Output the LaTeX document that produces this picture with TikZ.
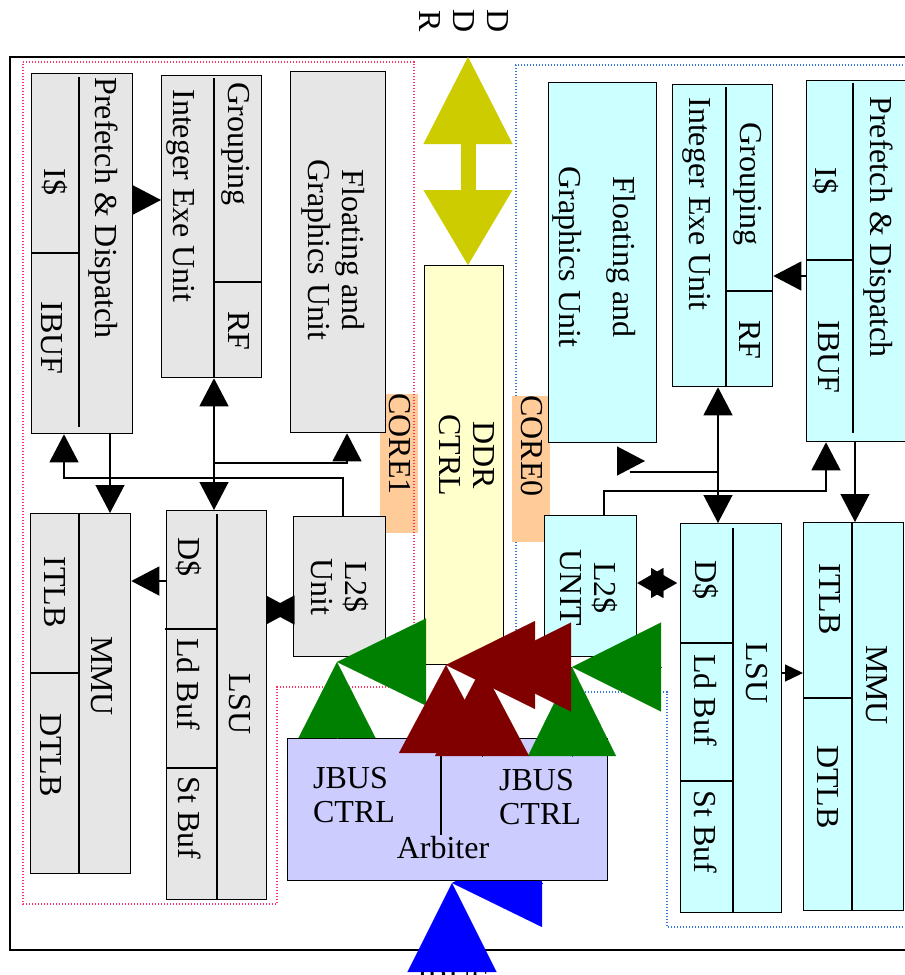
\documentclass[tikz,border=0pt]{standalone}
\usepackage{fontspec}
\setmainfont{Liberation Serif}
\usetikzlibrary{arrows.meta}
\definecolor{CoreGrey}{HTML}{E6E6E6}
\definecolor{CoreCyan}{HTML}{CCFFFF}
\definecolor{DdrYellow}{HTML}{FFFFCC}
\definecolor{DdrOlive}{HTML}{CCCC00}
\definecolor{JbusLilac}{HTML}{CCCCFF}
\definecolor{TagPeach}{HTML}{FFCC99}
\definecolor{BusGreen}{HTML}{008000}
\definecolor{BusMaroon}{HTML}{800000}
\definecolor{BusBlue}{HTML}{0000FF}
\definecolor{RegionRed}{HTML}{FF3366}
\definecolor{RegionBlue}{HTML}{3377DD}

\begin{document}
\begin{tikzpicture}[
    x=1pt, y=-1pt,
    unit/.style={draw=black, line width=1.3pt, inner sep=0pt, anchor=north west},
    greyunit/.style={unit, fill=CoreGrey},
    cyanunit/.style={unit, fill=CoreCyan},
    tag/.style={fill=TagPeach, inner sep=0pt, anchor=north west},
    lbl/.style={rotate=-90, inner sep=0pt, font=\fontsize{32}{34}\selectfont},
    hlbl/.style={inner sep=0pt, align=left, font=\fontsize{32}{34}\selectfont},
    part/.style={line width=1.3pt},
    region/.style={line width=1.3pt, dash pattern=on 1.4pt off 1.6pt},
    arr/.style={line width=1.3pt, -{Triangle[length=28pt,width=29pt]}},
    dbl/.style={line width=1.3pt, {Triangle[length=28pt,width=29pt]}-{Triangle[length=28pt,width=29pt]}},
    head/.style={line width=0.1pt, -{Triangle[length=#1pt,width=29pt]}},
    bus/.style args={#1/#2/#3}{color=#1, line width=0.1pt, -{Triangle[length=#2pt,width=#3pt]}}
]
\useasboundingbox (0,0) rectangle (905,975);

% chip outline and core regions
\draw[line width=1.5pt] (10,57) rectangle (930,950);
\draw[region, RegionBlue] (930,65) -- (516,65) -- (516,692) -- (667,692) -- (667,927) -- (930,927);
\node[tag, minimum width=38pt, minimum height=139pt] (tag1) at (380,394) {};
\node[tag, minimum width=38pt, minimum height=146pt] (tag0) at (512,396) {};
\draw[region, RegionRed] (23,62) -- (414,62) -- (414,687) -- (277,687) -- (277,904) -- (23,904) -- cycle;

% JBUS side arrow (half hidden under the box)
\coordinate (jb) at (452,883);
\draw[bus=BusBlue/90/88] (542,883) -- (jb);

% CORE1
\node[greyunit, minimum width=101pt, minimum height=360pt] (pd1) at (31,73) {};
\node[greyunit, minimum width=100pt, minimum height=302pt] (ie1) at (161,75) {};
\node[greyunit, minimum width=95pt, minimum height=361pt] (fg1) at (290,71) {};
\node[greyunit, minimum width=100pt, minimum height=360pt] (mmu1) at (30,513) {};
\node[greyunit, minimum width=100pt, minimum height=389pt] (lsu1) at (166,510) {};
\node[greyunit, minimum width=92pt, minimum height=140pt] (l21) at (293,516) {};

% DDR controller and JBUS
\node[unit, fill=DdrYellow, minimum width=79pt, minimum height=399pt] (ddr) at (424,265) {};
\node[unit, fill=JbusLilac, minimum width=320pt, minimum height=142pt] (jbus) at (287,738) {};

% CORE0
\node[cyanunit, minimum width=108pt, minimum height=360pt] (fg0) at (548,82) {};
\node[cyanunit, minimum width=100pt, minimum height=302pt] (ie0) at (672,84) {};
\node[cyanunit, minimum width=120pt, minimum height=361pt] (pd0) at (806,80) {};
\node[cyanunit, minimum width=92pt, minimum height=141pt] (l20) at (544,515) {};
\node[cyanunit, minimum width=101pt, minimum height=389pt] (lsu0) at (680,523) {};
\node[cyanunit, minimum width=100pt, minimum height=388pt] (mmu0) at (803,522) {};

% inner partitions
\draw[part] (79,77) -- (79,427);
\draw[part] (31,253) -- (79,253);
\draw[part] (214,78) -- (214,377);
\draw[part] (214,282) -- (261,282);
\draw[part] (79,513) -- (79,873);
\draw[part] (30,673) -- (79,673);
\draw[part] (217,514) -- (217,899);
\draw[part] (165,629) -- (217,629);
\draw[part] (166,768) -- (217,768);
\draw[part] (726,87) -- (726,386);
\draw[part] (726,291) -- (772,291);
\draw[part] (853,83) -- (853,433);
\draw[part] (806,260) -- (853,260);
\draw[part] (733,528) -- (733,912);
\draw[part] (680,643) -- (733,643);
\draw[part] (680,781) -- (733,781);
\draw[part] (852,522) -- (852,910);
\draw[part] (803,698) -- (852,698);
\draw[part] (441,743) -- (441,835);

% labels CORE1
\node[lbl] at (55,182) {I\$};
\node[lbl] at (103,208) {Prefetch \& Dispatch};
\node[lbl] at (52,338) {IBUF};
\node[lbl] at (236,144) {Grouping};
\node[lbl] at (181,196) {Integer Exe Unit};
\node[lbl] at (239,331) {RF};
\node[lbl, align=center] at (333,250) {Floating and\\Graphics Unit};
\node[lbl, align=center] at (340,587) {L2\$\\Unit};
\node[lbl] at (55,592) {ITLB};
\node[lbl] at (51,755) {DTLB};
\node[lbl] at (102,676) {MMU};
\node[lbl] at (189,557) {D\$};
\node[lbl] at (189,684) {Ld Buf};
\node[lbl] at (190,818) {St Buf};
\node[lbl] at (240,704) {LSU};
\node[lbl] at (400,444) {CORE1};
\node[lbl, align=center] at (467,455) {DDR\\CTRL};
\node[lbl] at (532,446) {CORE0};

% labels CORE0
\node[lbl] at (826,181) {I\$};
\node[lbl] at (878,227) {Prefetch \& Dispatch};
\node[lbl] at (829,357) {IBUF};
\node[lbl] at (748,184) {Grouping};
\node[lbl] at (697,204) {Integer Exe Unit};
\node[lbl] at (750,340) {RF};
\node[lbl, align=center] at (594,257) {Floating and\\[20pt]Graphics Unit};
\node[lbl, align=center] at (589,588) {L2\$\\UNIT};
\node[lbl] at (706,580) {D\$};
\node[lbl] at (706,700) {Ld Buf};
\node[lbl] at (706,832) {St Buf};
\node[lbl] at (757,673) {LSU};
\node[lbl] at (830,599) {ITLB};
\node[lbl] at (828,787) {DTLB};
\node[lbl] at (877,685) {MMU};

% JBUS labels and outside names
\node[hlbl] at (354,795) {JBUS\\CTRL};
\node[hlbl] at (540,797) {JBUS\\CTRL};
\node[hlbl] at (443,848) {Arbiter};
\node[lbl, align=center] (ddrname) at (464,21) {D\\D\\R};
\node[hlbl] (jbusname) at (452,980) {JBUS};

% CORE1 connections
\draw[arr] (pd1.east |- 0,200) -- (ie1.west |- 0,200);
\draw[arr] (pd1.south -| 110,0) -- (mmu1.north -| 110,0);
\draw[arr] (l21.north -| 343,0) -- (343,478) -| (pd1.south -| 64,0);
\draw[dbl] (ie1.south -| 214,0) -- (lsu1.north -| 214,0);
\draw[arr] (214,463) -| (fg1.south -| 347,0);
\draw[arr] (lsu1.west |- 0,581) -- (mmu1.east |- 0,581);
\draw[head=27] (lsu1.east |- 0,610) -- (l21.west |- 0,610);
\draw[head=27] (l21.west |- 0,610) -- (lsu1.east |- 0,610);

% CORE0 connections
\draw[arr] (pd0.west |- 0,276) -- (ie0.east |- 0,276);
\draw[arr] (pd0.south -| 855,0) -- (mmu0.north -| 855,0);
\draw[arr] (l20.north -| 604,0) -- (604,491) -| (pd0.south -| 826,0);
\draw[dbl] (ie0.south -| 718,0) -- (lsu0.north -| 718,0);
\draw[part] (718,472) -- (630,472);
\draw[arr] (617,461) -- (645,461);
\draw[line width=1.3pt, -{Triangle[length=18pt,width=17pt]}] (lsu0.east |- 0,673) -- (mmu0.west |- 0,673);
\draw[line width=0.1pt, -{Triangle[length=26pt,width=30pt]}] (663,583) -- (l20.east |- 0,583);
\draw[line width=0.1pt, -{Triangle[length=26pt,width=30pt]}] (651,583) -- (677,583);

% DDR port
\coordinate (ddrtop) at (468,57);
\fill[DdrOlive] (460.5,140) rectangle (475.5,195);
\draw[DdrOlive, line width=0.1pt, {Triangle[length=87pt,width=89pt]}-{Triangle[length=75pt,width=89pt]}] (ddrtop) -- (ddr.north -| ddrtop);

% bus heads between JBUS and DDR CTRL
\coordinate (g1) at (337,662);
\coordinate (g0) at (572,667);
\coordinate (r1) at (446,665);
\coordinate (r0) at (482,667);
\draw[bus=BusGreen/76/77] (jbus.north -| g1) -- (g1);
\draw[bus=BusGreen/89/87] (ddr.west |- g1) -- (g1);
\draw[bus=BusGreen/89/88] (572,756) -- (g0);
\draw[bus=BusGreen/89/89] (661,667) -- (g0);
\draw[bus=BusMaroon/88/94] (446,753) -- (r1);
\draw[bus=BusMaroon/89/88] (535,665) -- (r1);
\draw[bus=BusMaroon/89/94] (482,756) -- (r0);
\draw[bus=BusMaroon/89/89] (571,667) -- (r0);
\draw[bus=BusBlue/89/89] (452,972) -- (jb);
\end{tikzpicture}
\end{document}
